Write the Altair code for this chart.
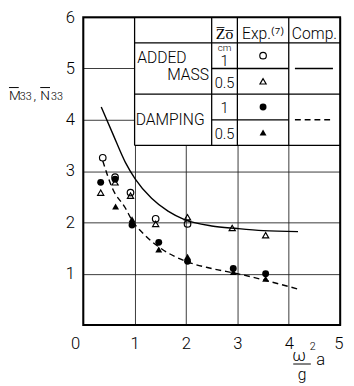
import altair as alt
import pandas as pd

# ---- data ----
# Experiment: added mass, Zo = 1 cm (open circles)
am1_x = [0.38, 0.62, 0.92, 1.41, 2.03]
am1_y = [3.26, 2.88, 2.58, 2.07, 1.97]
# Experiment: added mass, Zo = 0.5 cm (open triangles)
am05_x = [0.34, 0.62, 0.92, 1.41, 2.03, 2.9, 3.55]
am05_y = [2.58, 2.78, 2.52, 1.97, 2.1, 1.89, 1.75]
# Experiment: damping, Zo = 1 cm (filled circles)
dp1_x = [0.34, 0.62, 0.95, 1.47, 2.03, 2.92, 3.55]
dp1_y = [2.78, 2.84, 1.95, 1.61, 1.24, 1.1, 1.0]
# Experiment: damping, Zo = 0.5 cm (filled triangles)
dp05_x = [0.63, 0.95, 1.47, 2.03, 2.92, 3.55]
dp05_y = [2.31, 2.06, 1.47, 1.33, 1.03, 0.9]
# Computation curves
comp_am_x = [0.35, 0.57, 0.82, 1.01, 1.33, 1.65, 1.96, 2.5, 3.0, 3.5, 4.18]
comp_am_y = [4.25, 3.74, 3.17, 2.85, 2.47, 2.22, 2.06, 1.93, 1.88, 1.84, 1.82]
comp_dp_x = [0.38, 0.57, 0.82, 0.95, 1.2, 1.5, 2.0, 2.5, 3.0, 3.5, 4.18]
comp_dp_y = [3.2, 2.66, 2.28, 2.04, 1.75, 1.5, 1.24, 1.1, 1.0, 0.88, 0.7]

x_ticks = [0, 1, 2, 3, 4, 5]
y_ticks = [0, 1, 2, 3, 4, 5, 6]

FONT = "Roboto"
FW = 300

xscale = alt.Scale(domain=[0, 5], nice=False, zero=False)
yscale = alt.Scale(domain=[0, 6], nice=False, zero=False)

x_axis = alt.Axis(values=x_ticks, grid=True, gridColor="#222", gridWidth=0.9,
                  domain=False, ticks=False, labelFontSize=17, labelFont=FONT,
                  labelFontWeight=FW, labelColor="black", labelPadding=11,
                  labelOffset={"condition": [{"test": "datum.value === 0", "value": -13},
                                             {"test": "datum.value === 5", "value": 3}],
                               "value": 0},
                  title=None)
y_axis = alt.Axis(values=y_ticks, grid=True, gridColor="#222", gridWidth=0.9,
                  domain=False, ticks=False, labelFontSize=17, labelFont=FONT,
                  labelFontWeight=FW, labelColor="black", labelPadding=9,
                  labelExpr="datum.value === 0 ? '' : datum.label",
                  title=None)


def X(field="x"):
    return alt.X(f"{field}:Q", scale=xscale, axis=x_axis)


def Y(field="y"):
    return alt.Y(f"{field}:Q", scale=yscale, axis=y_axis)


def pts(xs, ys, shape, filled, size):
    df = pd.DataFrame({"x": xs, "y": ys})
    return alt.Chart(df).mark_point(shape=shape, filled=filled, size=size,
                                    color="black", strokeWidth=1.2, opacity=1).encode(x=X(), y=Y())


def curve(xs, ys, dash):
    df = pd.DataFrame({"x": xs, "y": ys})
    kw = dict(color="black", strokeWidth=1.4, interpolate="monotone")
    if dash:
        kw["strokeDash"] = [6, 4]
    return alt.Chart(df).mark_line(**kw).encode(x=X(), y=Y())


# grid / axes carrier
base = alt.Chart(pd.DataFrame({"x": [0, 5], "y": [0, 6]})).mark_point(opacity=0).encode(x=X(), y=Y())

# ---- table (legend) ----
tbl_left, tbl_split, tbl_zo, tbl_exp, tbl_right = 1.0, 2.5, 3.0, 4.0, 5.0
tbl_top, tbl_head, tbl_r1, tbl_mid, tbl_r3, tbl_bot = 6.0, 5.5, 5.0, 4.5, 4.0, 3.5

table_bg = alt.Chart(pd.DataFrame({"x": [tbl_left], "x2": [tbl_right], "y": [tbl_bot], "y2": [tbl_top]})).mark_rect(
    color="white", opacity=1).encode(x=X(), x2="x2:Q", y=Y(), y2="y2:Q")

rules_df = pd.DataFrame([
    {"x": tbl_left, "x2": tbl_right, "y": tbl_head, "y2": tbl_head},
    {"x": tbl_split, "x2": tbl_exp, "y": tbl_r1, "y2": tbl_r1},
    {"x": tbl_left, "x2": tbl_right, "y": tbl_mid, "y2": tbl_mid},
    {"x": tbl_split, "x2": tbl_exp, "y": tbl_r3, "y2": tbl_r3},
    {"x": tbl_left, "x2": tbl_right, "y": tbl_bot, "y2": tbl_bot},
    {"x": tbl_left, "x2": tbl_left, "y": tbl_bot, "y2": tbl_top},
    {"x": tbl_split, "x2": tbl_split, "y": tbl_bot, "y2": tbl_top},
    {"x": tbl_zo, "x2": tbl_zo, "y": tbl_bot, "y2": tbl_top},
    {"x": tbl_exp, "x2": tbl_exp, "y": tbl_bot, "y2": tbl_top},
])
table_rules = alt.Chart(rules_df).mark_rule(color="black", strokeWidth=1.3).encode(
    x=X(), x2="x2:Q", y=Y(), y2="y2:Q")

# table texts
txt_left = pd.DataFrame([
    {"x": 1.05, "y": 5.2, "t": "ADDED"},
    {"x": 1.02, "y": 4.0, "t": "DAMPING"},
])
txt_right = pd.DataFrame([
    {"x": 2.45, "y": 4.87, "t": "MASS"},
])
txt_header = pd.DataFrame([
    {"x": 2.75, "y": 5.68, "t": "Z\u0305o\u0305"},
    {"x": 3.5, "y": 5.68, "t": "Exp.\u207d\u2077\u207e"},
    {"x": 4.5, "y": 5.68, "t": "Comp."},
])
txt_center = pd.DataFrame([
    {"x": 2.75, "y": 5.15, "t": "1"},
    {"x": 2.75, "y": 4.72, "t": "0.5"},
    {"x": 2.75, "y": 4.22, "t": "1"},
    {"x": 2.75, "y": 3.73, "t": "0.5"},
])
txt_small = pd.DataFrame([{"x": 2.75, "y": 5.4, "t": "cm"}])


def texts(df, align, size):
    return alt.Chart(df).mark_text(align=align, baseline="middle", font=FONT, fontWeight=FW,
                                   fontSize=size, color="black").encode(x=X(), y=Y(), text="t:N")


leg_syms = [
    pts([3.5], [5.25], "circle", False, 45),
    pts([3.5], [4.75], "triangle-up", False, 40),
    pts([3.5], [4.25], "circle", True, 50),
    pts([3.5], [3.75], "triangle-up", True, 50),
]
leg_lines = [
    curve([4.12, 4.86], [5.0, 5.0], False),
    curve([4.12, 4.86], [4.0, 4.0], True),
]

border = alt.Chart(pd.DataFrame({"x": [0], "x2": [5], "y": [0], "y2": [6]})).mark_rect(
    fill="transparent", stroke="black", strokeWidth=2).encode(x=X(), x2="x2:Q", y=Y(), y2="y2:Q")

ONE = alt.Data(values=[{}])


def label(txt, px, py, size, align="center", baseline="middle"):
    return alt.Chart(ONE).mark_text(font=FONT, fontWeight=FW, fontSize=size, color="black",
                                    align=align, baseline=baseline).encode(
        x=alt.value(px), y=alt.value(py), text=alt.value(txt))


def bar(px1, px2, py, w=1):
    return alt.Chart(ONE).mark_rule(color="black", strokeWidth=w).encode(
        x=alt.value(px1), x2=alt.value(px2), y=alt.value(py))


# x-axis title as fraction  (w^2 / g) a
x_title = [
    label("\u03c9", 221, 347, 17),
    label("2", 232, 338, 11, "left"),
    label("g", 224, 366, 16),
    label("a", 243, 351, 17),
    bar(215, 233, 355),
]
# y-axis title  M33, N33 with overbars
y_title = [
    label("M", -76, 85, 14, "left", "alphabetic"),
    label("33", -65, 85, 11, "left", "alphabetic"),
    label(",", -51, 85, 14, "left", "alphabetic"),
    label("N", -44, 85, 14, "left", "alphabetic"),
    label("33", -33, 85, 11, "left", "alphabetic"),
    bar(-76, -66, 72),
    bar(-44, -34, 72),
]

layers = [base,
          curve(comp_am_x, comp_am_y, False),
          curve(comp_dp_x, comp_dp_y, True),
          pts(am1_x, am1_y, "circle", False, 45),
          pts(am05_x, am05_y, "triangle-up", False, 40),
          pts(dp1_x, dp1_y, "circle", True, 50),
          pts(dp05_x, dp05_y, "triangle-up", True, 50),
          table_bg, table_rules,
          texts(txt_left, "left", 16), texts(txt_right, "right", 16),
          texts(txt_header, "center", 16), texts(txt_center, "center", 15),
          texts(txt_small, "center", 10),
          *leg_syms, *leg_lines, border, *x_title, *y_title]

chart = alt.layer(*layers).properties(
    width=263, height=315,
    autosize=alt.AutoSizeParams(type="none"),
    padding={"left": 77, "top": 5, "right": 6, "bottom": 55},
).configure_view(stroke="transparent")

chart.save("out.html", embed_options={"renderer": "svg", "actions": False})
